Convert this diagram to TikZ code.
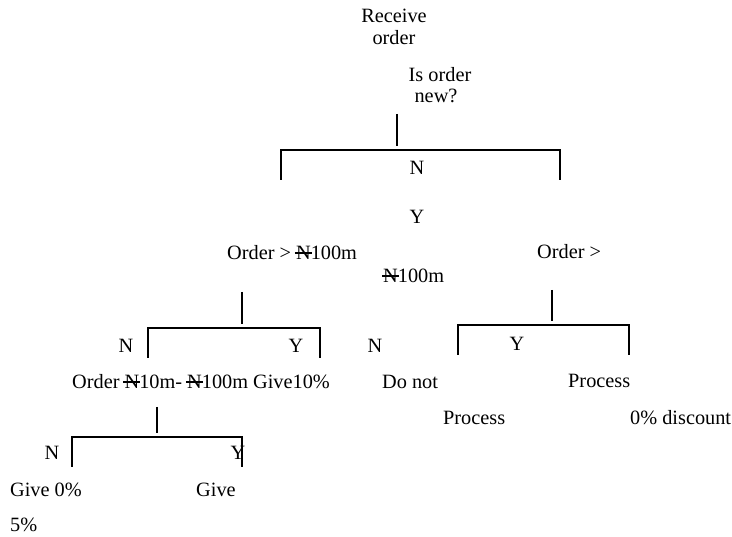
\documentclass[tikz,border=0pt]{standalone}
\usepackage{fontspec}
\setmainfont{Liberation Serif}
\newcommand\naira{\ooalign{N\cr\hidewidth\rule[0.3em]{0.84em}{0.08em}\hidewidth\cr}}
\tikzset{
  txt/.style={inner sep=0pt, anchor=base west, font=\fontsize{20.3}{24}\selectfont},
  mid/.style={txt, anchor=base},
  tree/.style={line width=1.3pt}
}
\begin{document}
\begin{tikzpicture}[x=1pt,y=-1pt]
\useasboundingbox (0,0) rectangle (732,537);

\node[mid] (recv1) at (394,23) {Receive};
\node[mid] (recv2) at (394,45) {order};
\node[mid] (new1) at (440,82) {Is order};
\node[mid] (new2) at (436,103) {new?};
\node[mid] (n1) at (417,175) {N};
\node[mid] (y1) at (417,224) {Y};

\node[txt] (big) at (227,260) {Order > \naira100m};
\node[txt] (old1) at (537,259) {Order >};
\node[txt] (old2) at (383,283) {\naira100m};

\node[mid] (n2) at (126,353) {N};
\node[mid] (y2) at (296,353) {Y};
\node[mid] (n3) at (375,353) {N};
\node[mid] (y3) at (517,351) {Y};

\node[txt] (range) at (72,389) {Order \naira10m- \naira100m Give10\%};
\node[txt] (dont1) at (382,389) {Do not};
\node[txt] (dont2) at (443,425) {Process};
\node[txt] (proc1) at (568,388) {Process};
\node[txt] (proc2) at (630,425) {0\% discount};

\node[mid] (n4) at (52,460) {N};
\node[mid] (y4) at (238,460) {Y};
\node[txt] (zero) at (10,497) {Give 0\%};
\node[txt] (five1) at (196,497) {Give};
\node[txt] (five2) at (10,532) {5\%};

\foreach \n/\sx/\st/\l/\r/\h in {a/397/114/281/560/150, b/242/292/148/320/328, c/552/290/458/629/325, d/157/407/72/242/437}{
\coordinate (\n top) at (\sx,\st);
\coordinate (\n bot) at (\sx,\h-4);
\coordinate (\n left) at (\l,\h+30);
\coordinate (\n right) at (\r,\h+30);
\draw[tree] (\n top)--(\n bot);
\draw[tree] (\n left)--(\l,\h)--(\r,\h)--(\n right);
}
\end{tikzpicture}
\end{document}
